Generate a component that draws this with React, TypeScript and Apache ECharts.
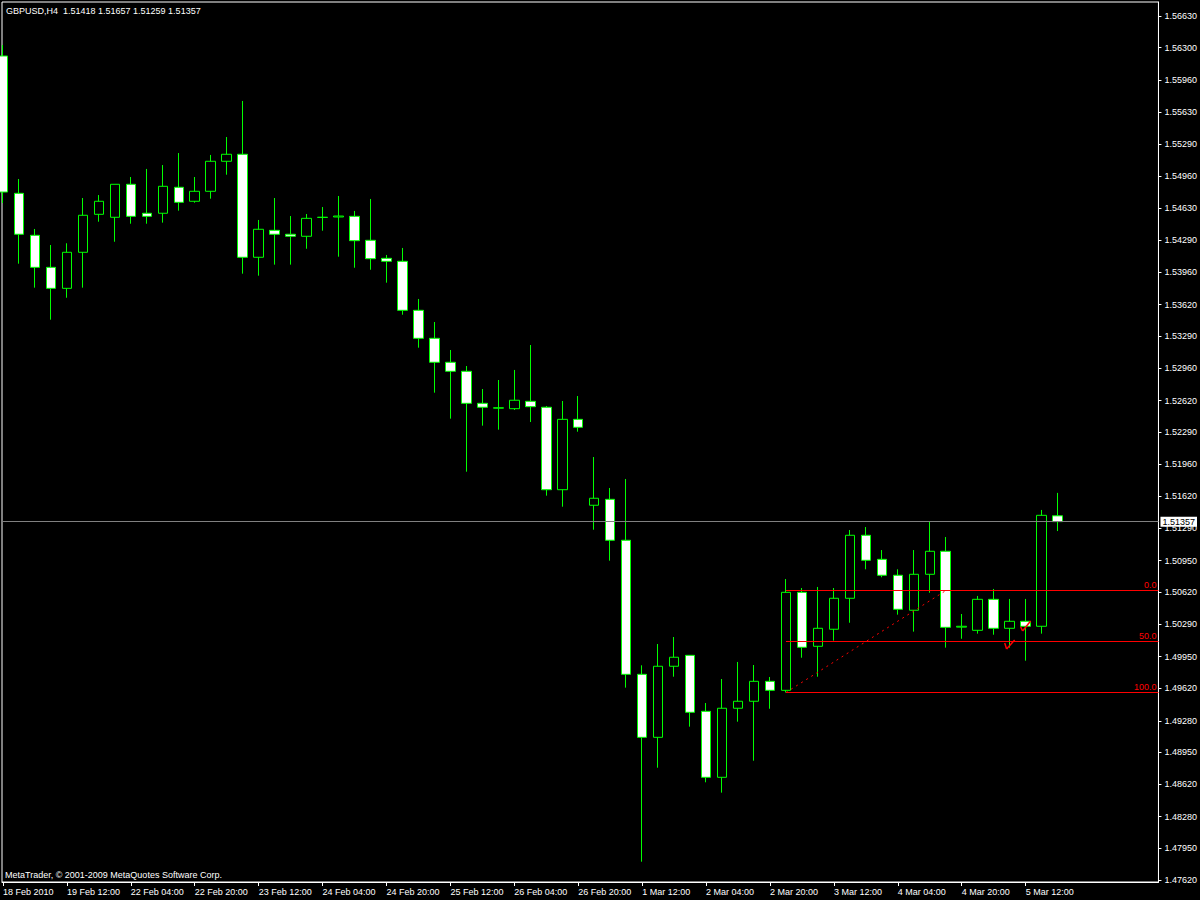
import React, { useEffect, useRef } from 'react';
import * as echarts from 'echarts';

const symbol = 'GBPUSD,H4';
const copyright = 'MetaTrader, © 2001-2009 MetaQuotes Software Corp.';

// H4 bars, 18 Feb 2010 20:00 .. 5 Mar 2010 20:00
const opens = [
  1.56213, 1.54781, 1.54343, 1.54009, 1.53790, 1.54166, 1.54562, 1.54531, 1.54875, 1.54573,
  1.54573, 1.54844, 1.54698, 1.54802, 1.55115, 1.55188, 1.54114, 1.54395, 1.54354, 1.54333,
  1.54531, 1.54534, 1.54541, 1.54291, 1.54103, 1.54072, 1.53561, 1.53269, 1.53019, 1.52925,
  1.52591, 1.52540, 1.52535, 1.52612, 1.52550, 1.51690, 1.52424, 1.51528, 1.51590, 1.51163,
  1.49765, 1.49108, 1.49849, 1.49963, 1.49379, 1.48691, 1.49411, 1.49484, 1.49692, 1.49598,
  1.50620, 1.50057, 1.50235, 1.50558, 1.51215, 1.50964, 1.50798, 1.50433, 1.50808, 1.51048,
  1.50257, 1.50224, 1.50547, 1.50245, 1.50318, 1.50266, 1.51418,
];
const highs = [
  1.56327, 1.54930, 1.54409, 1.54242, 1.54260, 1.54732, 1.54763, 1.54875, 1.54951, 1.55035,
  1.55076, 1.55201, 1.54951, 1.55181, 1.55368, 1.55744, 1.54503, 1.54732, 1.54544, 1.54565,
  1.54638, 1.54753, 1.54597, 1.54722, 1.54138, 1.54211, 1.53679, 1.53439, 1.53147, 1.52980,
  1.52740, 1.52834, 1.52939, 1.53199, 1.52563, 1.52615, 1.52667, 1.52031, 1.51708, 1.51802,
  1.49859, 1.50081, 1.50154, 1.49963, 1.49466, 1.49716, 1.49894, 1.49862, 1.49737, 1.50759,
  1.50665, 1.50676, 1.50665, 1.51270, 1.51301, 1.51061, 1.50860, 1.51061, 1.51353, 1.51197,
  1.50394, 1.50582, 1.50655, 1.50551, 1.50551, 1.51479, 1.51657,
];
const lows = [
  1.54680, 1.54047, 1.53797, 1.53463, 1.53692, 1.53797, 1.54485, 1.54276, 1.54464, 1.54464,
  1.54475, 1.54600, 1.54683, 1.54725, 1.54975, 1.53943, 1.53922, 1.54037, 1.54037, 1.54203,
  1.54391, 1.54120, 1.54005, 1.53984, 1.53849, 1.53515, 1.53171, 1.52702, 1.52431, 1.51878,
  1.52358, 1.52316, 1.52521, 1.52396, 1.51628, 1.51513, 1.52295, 1.51273, 1.50950, 1.49626,
  1.47811, 1.48791, 1.49740, 1.49219, 1.48639, 1.48531, 1.49271, 1.48864, 1.49406, 1.49575,
  1.49938, 1.49740, 1.50116, 1.50303, 1.50860, 1.50777, 1.50387, 1.50210, 1.50616, 1.50043,
  1.50136, 1.50189, 1.50178, 1.50043, 1.49907, 1.50189, 1.51259,
];
const closes = [
  1.54794, 1.54354, 1.54009, 1.53790, 1.54166, 1.54552, 1.54698, 1.54875, 1.54541, 1.54541,
  1.54854, 1.54687, 1.54802, 1.55115, 1.55188, 1.54114, 1.54406, 1.54354, 1.54333, 1.54520,
  1.54530, 1.54544, 1.54287, 1.54099, 1.54072, 1.53561, 1.53269, 1.53019, 1.52925, 1.52591,
  1.52550, 1.52545, 1.52623, 1.52556, 1.51690, 1.52424, 1.52341, 1.51601, 1.51163, 1.49765,
  1.49108, 1.49849, 1.49943, 1.49369, 1.48691, 1.49411, 1.49484, 1.49692, 1.49598, 1.50620,
  1.50047, 1.50245, 1.50558, 1.51215, 1.50954, 1.50798, 1.50443, 1.50808, 1.51048, 1.50255,
  1.50266, 1.50547, 1.50245, 1.50318, 1.50266, 1.51423, 1.51357,
];

const xTickBars = [0, 4, 8, 12, 16, 20, 24, 28, 32, 36, 40, 44, 48, 52, 56, 60, 64];
const xTickLabels = [
  '18 Feb 2010', '19 Feb 12:00', '22 Feb 04:00', '22 Feb 20:00', '23 Feb 12:00', '24 Feb 04:00',
  '24 Feb 20:00', '25 Feb 12:00', '26 Feb 04:00', '26 Feb 20:00', '1 Mar 12:00', '2 Mar 04:00',
  '2 Mar 20:00', '3 Mar 12:00', '4 Mar 04:00', '4 Mar 20:00', '5 Mar 12:00',
];
const yTicks = [
  1.4762, 1.4795, 1.4828, 1.4862, 1.4895, 1.4928, 1.4962, 1.4995, 1.5029, 1.5062,
  1.5095, 1.5129, 1.5162, 1.5196, 1.5229, 1.5262, 1.5296, 1.5329, 1.5362, 1.5396,
  1.5429, 1.5463, 1.5496, 1.5529, 1.5563, 1.5596, 1.5630, 1.5663,
];

// Fibonacci retracement object
const fibLevelNames = ['0.0', '50.0', '100.0'];
const fibLevelPrices = [1.50638, 1.50107, 1.49575];
const fibStartBar = 49;
const fibAnchor = [[49, 1.49575], [59, 1.50638]];
// two small red check-mark objects (bar position, price)
const smallMarks = [
  [[62.69, 1.50092], [62.81, 1.50029], [63.31, 1.50123]],
  [[63.69, 1.50258], [63.81, 1.50217], [64.31, 1.50321]],
];

const X_MIN = -0.0625;
const X_MAX = 72.3125;
const Y_MIN = 1.475992;
const Y_MAX = 1.56776;

const FONT = 'Liberation Sans';

export default function App() {
  const ref = useRef<HTMLDivElement>(null);
  useEffect(() => {
    const chart = echarts.init(ref.current!, null, { renderer: 'svg' });
    const last = opens.length - 1;
    const current = closes[last];
    const candles = opens.map((o, i) => [i, o, closes[i], lows[i], highs[i]]);
    const title = `${symbol}  ${opens[last].toFixed(5)} ${highs[last].toFixed(5)} ${lows[last].toFixed(5)} ${closes[last].toFixed(5)}`;

    const markData: any[] = [
      [
        {
          coord: [X_MIN, current],
          lineStyle: { color: '#808080', width: 1, type: 'solid' },
          label: {
            show: true, position: 'end', formatter: current.toFixed(5), color: '#000',
            backgroundColor: '#ffffff', padding: [1, 2, 0, 2], fontSize: 9, fontFamily: FONT, distance: 2,
          },
        },
        { coord: [X_MAX, current] },
      ],
    ];
    fibLevelPrices.forEach((p, k) => {
      markData.push([
        {
          coord: [fibStartBar, p],
          lineStyle: { color: '#ff0000', width: 1, type: 'solid' },
          label: {
            show: true, position: 'insideEndTop', formatter: fibLevelNames[k], color: '#ff0000',
            fontSize: 9, fontFamily: FONT, distance: [2, 1],
          },
        },
        { coord: [X_MAX, p] },
      ]);
    });
    markData.push([
      { coord: fibAnchor[0], lineStyle: { color: '#ff0000', width: 1, type: [2, 4] }, label: { show: false } },
      { coord: fibAnchor[1] },
    ]);
    smallMarks.forEach((pts) => {
      for (let k = 0; k < pts.length - 1; k++) {
        markData.push([
          { coord: pts[k], lineStyle: { color: '#ff0000', width: 1.5, type: 'solid' }, label: { show: false } },
          { coord: pts[k + 1] },
        ]);
      }
    });

    chart.setOption({
      animation: false,
      backgroundColor: '#000000',
      textStyle: { fontFamily: FONT, fontSize: 9 },
      grid: {
        left: 2, top: 2, right: 40, bottom: 18, show: true,
        borderColor: '#ffffff', borderWidth: 1, backgroundColor: '#000000',
      },
      graphic: [
        { type: 'text', left: 6, top: 6, style: { text: title, fill: '#ffffff', font: `9px "${FONT}"` } },
        { type: 'text', left: 5, top: 870, style: { text: copyright, fill: '#ffffff', font: `9px "${FONT}"` } },
      ],
      xAxis: {
        type: 'value', min: X_MIN, max: X_MAX,
        splitLine: { show: false },
        axisLine: { show: true, onZero: false, lineStyle: { color: '#ffffff', width: 1 } },
        axisTick: { show: true, customValues: xTickBars, length: 4, lineStyle: { color: '#ffffff' } },
        axisLabel: {
          customValues: xTickBars, color: '#ffffff', fontSize: 9, fontFamily: FONT, align: 'left', margin: 5,
          formatter: (v: number) => {
            const k = xTickBars.indexOf(Math.round(v));
            return k >= 0 ? xTickLabels[k] : '';
          },
        },
      },
      yAxis: {
        type: 'value', position: 'right', min: Y_MIN, max: Y_MAX,
        splitLine: { show: false },
        axisLine: { show: true, onZero: false, lineStyle: { color: '#ffffff', width: 1 } },
        axisTick: { show: true, customValues: yTicks, length: 3, lineStyle: { color: '#ffffff' } },
        axisLabel: {
          customValues: yTicks, color: '#ffffff', fontSize: 9, fontFamily: FONT, margin: 6,
          formatter: (v: number) => v.toFixed(5),
        },
      },
      series: [
        {
          type: 'candlestick',
          data: candles,
          encode: { x: 0, y: [1, 2, 3, 4] },
          barWidth: 10,
          clip: true,
          itemStyle: {
            color: '#000000', color0: '#ffffff',
            borderColor: '#00ff00', borderColor0: '#00ff00', borderColorDoji: '#00ff00', borderWidth: 1,
          },
          markLine: { silent: true, symbol: ['none', 'none'], animation: false, data: markData },
        },
      ],
    });
    return () => chart.dispose();
  }, []);
  return (
    <div
      ref={ref}
      style={{ position: 'absolute', left: 0, top: 0, width: 1200, height: 900, background: '#000' }}
    />
  );
}
